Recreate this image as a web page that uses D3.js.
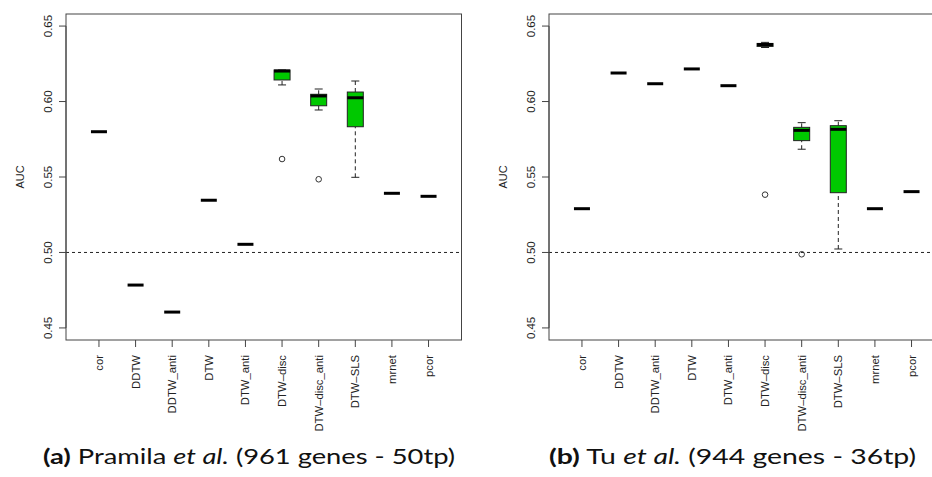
<!DOCTYPE html>
<html>
<head>
<meta charset="utf-8">
<script src="https://cdn.jsdelivr.net/npm/d3@7"></script>
<style>
  body { margin: 0; background: #fff; }
  svg { display: block; font-family: "Liberation Sans", Arial, sans-serif; }
</style>
</head>
<body>
<div id="chart"></div>
<script>
// Methods (x categories)
const categories = ["cor", "DDTW", "DDTW_anti", "DTW", "DTW_anti", "DTW–disc",
                    "DTW–disc_anti", "DTW–SLS", "mrnet", "pcor"];
const yTicks = [0.45, 0.50, 0.55, 0.60, 0.65];

// Pramila et al. — box stats per method
const pramilaLow  = [0.580, 0.4784, 0.4605, 0.5346, 0.5054, 0.6110, 0.5944, 0.5498, 0.5392, 0.5372];
const pramilaQ1   = [0.580, 0.4784, 0.4605, 0.5346, 0.5054, 0.6143, 0.5972, 0.5833, 0.5392, 0.5372];
const pramilaMed  = [0.580, 0.4784, 0.4605, 0.5346, 0.5054, 0.6202, 0.6037, 0.6025, 0.5392, 0.5372];
const pramilaQ3   = [0.580, 0.4784, 0.4605, 0.5346, 0.5054, 0.6209, 0.6048, 0.6063, 0.5392, 0.5372];
const pramilaHigh = [0.580, 0.4784, 0.4605, 0.5346, 0.5054, 0.6209, 0.6083, 0.6136, 0.5392, 0.5372];
const pramilaOut  = [[5, 0.5619], [6, 0.5485]];

// Tu et al. — box stats per method
const tuLow  = [0.5290, 0.6189, 0.6118, 0.6216, 0.6105, 0.6358, 0.5684, 0.5023, 0.5290, 0.5403];
const tuQ1   = [0.5290, 0.6189, 0.6118, 0.6216, 0.6105, 0.6365, 0.5741, 0.5396, 0.5290, 0.5403];
const tuMed  = [0.5290, 0.6189, 0.6118, 0.6216, 0.6105, 0.6378, 0.5809, 0.5816, 0.5290, 0.5403];
const tuQ3   = [0.5290, 0.6189, 0.6118, 0.6216, 0.6105, 0.6385, 0.5829, 0.5840, 0.5290, 0.5403];
const tuHigh = [0.5290, 0.6189, 0.6118, 0.6216, 0.6105, 0.6392, 0.5860, 0.5873, 0.5290, 0.5403];
const tuOut  = [[5, 0.5383], [6, 0.4988]];

const panels = [
  { dx: 0,   low: pramilaLow, q1: pramilaQ1, med: pramilaMed, q3: pramilaQ3, high: pramilaHigh, out: pramilaOut,
    tag: "(a)", name: " Pramila ", rest: " (961 genes - 50tp)", capX: 43, capW: 412 },
  { dx: 483, low: tuLow, q1: tuQ1, med: tuMed, q3: tuQ3, high: tuHigh, out: tuOut,
    tag: "(b)", name: " Tu ", rest: " (944 genes - 36tp)", capX: 549, capW: 367 }
];

const W = 932, H = 477;
const box = { left: 66, right: 461.5, top: 14, bottom: 340 };
const green = "#00c800";
const boxW = 16;

const svg = d3.select("#chart").append("svg")
    .attr("width", W).attr("height", H);

// R style: xlim 0.5..n+0.5 and ylim 0.45..0.65, each widened by 4%
const n = categories.length;
const x = d3.scaleLinear()
    .domain([0.5 - n * 0.04, n + 0.5 + n * 0.04])
    .range([box.left, box.right]);
const y = d3.scaleLinear()
    .domain([0.45 - 0.2 * 0.04, 0.65 + 0.2 * 0.04])
    .range([box.bottom, box.top]);

panels.forEach(p => {
    const g = svg.append("g").attr("transform", `translate(${p.dx},0)`);

    // reference line at 0.5
    g.append("line")
        .attr("x1", box.left).attr("x2", box.right)
        .attr("y1", y(0.5)).attr("y2", y(0.5))
        .attr("stroke", "#222").attr("stroke-dasharray", "3,3");

    // y axis
    const yAxis = g.append("g");
    yAxis.append("line")
        .attr("x1", box.left).attr("x2", box.left)
        .attr("y1", y(yTicks[0])).attr("y2", y(yTicks[yTicks.length - 1]))
        .attr("stroke", "#444");
    yAxis.selectAll(".yt").data(yTicks).enter().append("line")
        .attr("x1", box.left - 7).attr("x2", box.left)
        .attr("y1", d => y(d)).attr("y2", d => y(d))
        .attr("stroke", "#444");
    yAxis.selectAll(".yl").data(yTicks).enter().append("text")
        .attr("transform", d => `translate(52,${y(d)}) rotate(-90)`)
        .attr("text-anchor", "middle")
        .style("font-size", "11.5px")
        .attr("fill", "#222")
        .text(d => d3.format(".2f")(d));
    g.append("text")
        .attr("transform", `translate(24,${(box.top + box.bottom) / 2}) rotate(-90)`)
        .attr("text-anchor", "middle")
        .style("font-size", "11px")
        .attr("fill", "#222")
        .text("AUC");

    // x axis
    const idx = d3.range(1, n + 1);
    g.selectAll(".xt").data(idx).enter().append("line")
        .attr("x1", d => x(d)).attr("x2", d => x(d))
        .attr("y1", box.bottom).attr("y2", box.bottom + 7)
        .attr("stroke", "#444");
    g.selectAll(".xl").data(idx).enter().append("text")
        .attr("transform", d => `translate(${x(d) + 4},355) rotate(-90)`)
        .attr("text-anchor", "end")
        .style("font-size", "11.3px")
        .attr("fill", "#222")
        .text(d => categories[d - 1]);

    // boxes
    categories.forEach((c, i) => {
        const cx = x(i + 1);
        const lo = p.low[i], q1 = p.q1[i], md = p.med[i], q3 = p.q3[i], hi = p.high[i];
        if (q3 > q1) {
            // whiskers
            [[lo, q1], [q3, hi]].forEach(([a, b]) => {
                if (b - a > 1e-6) {
                    g.append("line")
                        .attr("x1", cx).attr("x2", cx)
                        .attr("y1", y(a)).attr("y2", y(b))
                        .attr("stroke", "#222").attr("stroke-dasharray", "4,3");
                }
            });
            [lo, hi].forEach(v => {
                g.append("line")
                    .attr("x1", cx - boxW / 4).attr("x2", cx + boxW / 4)
                    .attr("y1", y(v)).attr("y2", y(v))
                    .attr("stroke", "#222");
            });
            g.append("rect")
                .attr("x", cx - boxW / 2).attr("width", boxW)
                .attr("y", y(q3)).attr("height", y(q1) - y(q3))
                .attr("fill", green).attr("stroke", "#222");
        }
        g.append("line")
            .attr("x1", cx - boxW / 2).attr("x2", cx + boxW / 2)
            .attr("y1", y(md)).attr("y2", y(md))
            .attr("stroke", "#000").attr("stroke-width", 3);
    });

    // outliers
    g.selectAll(".out").data(p.out).enter().append("circle")
        .attr("cx", d => x(d[0] + 1)).attr("cy", d => y(d[1]))
        .attr("r", 2.8)
        .attr("fill", "none").attr("stroke", "#333");

    // frame
    g.append("rect")
        .attr("x", box.left).attr("y", box.top)
        .attr("width", box.right - box.left).attr("height", box.bottom - box.top)
        .attr("fill", "none").attr("stroke", "#444");

    // caption
    const cap = g.append("text")
        .attr("x", p.capX - p.dx).attr("y", 464)
        .style("font-family", "Lato, 'Open Sans', sans-serif")
        .style("font-size", "21px")
        .attr("fill", "#111")
        .attr("textLength", p.capW).attr("lengthAdjust", "spacingAndGlyphs");
    cap.append("tspan").style("font-weight", "bold").text(p.tag);
    cap.append("tspan").text(p.name);
    cap.append("tspan").style("font-style", "italic").text("et al.");
    cap.append("tspan").text(p.rest);
});
</script>
</body>
</html>
